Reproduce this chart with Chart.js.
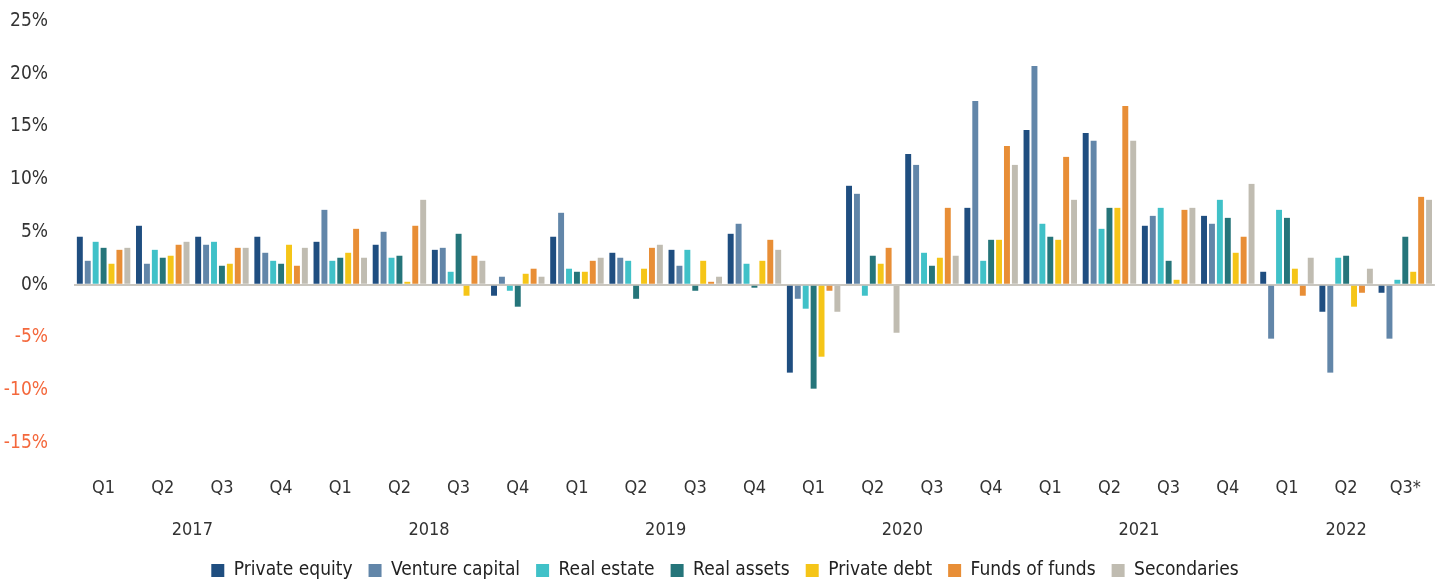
<!DOCTYPE html>
<html>
<head>
<meta charset="utf-8">
<script src="https://cdn.jsdelivr.net/npm/chart.js@4/dist/chart.umd.min.js"></script>
<style>
html,body{margin:0;padding:0;background:#fff;}
#wrap{width:1456px;height:585px;position:relative;}
</style>
</head>
<body>
<div id="wrap"><canvas id="c"></canvas></div>
<script>
const quarters = ['Q1','Q2','Q3','Q4','Q1','Q2','Q3','Q4','Q1','Q2','Q3','Q4','Q1','Q2','Q3','Q4','Q1','Q2','Q3','Q4','Q1','Q2','Q3*'];
const years = ['2017','2018','2019','2020','2021','2022'];
const yearPositions = [1.5, 5.5, 9.5, 13.5, 17.5, 21];
const yTicks = [-15,-10,-5,0,5,10,15,20,25];

const privateEquity   = [4.55,5.59,4.55,4.55,4.07,3.79,3.31,-1.04,4.55,3.03,3.31,4.83,-8.33,9.38,12.4,7.29,14.68,14.39,5.59,6.53,1.23,-2.56,-0.76];
const ventureCapital  = [2.27,1.99,3.79,3.03,7.1,5.02,3.5,0.76,6.82,2.56,1.8,5.78,-1.33,8.62,11.36,17.42,20.74,13.64,6.53,5.78,-5.11,-8.33,-5.11];
const realEstate      = [4.07,3.31,4.07,2.27,2.27,2.56,1.23,-0.57,1.52,2.27,3.31,1.99,-2.27,-1.04,3.03,2.27,5.78,5.3,7.29,8.05,7.1,2.56,0.47];
const realAssets      = [3.5,2.56,1.8,1.99,2.56,2.75,4.83,-2.08,1.23,-1.33,-0.57,-0.28,-9.85,2.75,1.8,4.26,4.55,7.29,2.27,6.34,6.34,2.75,4.55];
const privateDebt     = [1.99,2.75,1.99,3.79,3.03,0.28,-1.04,1.04,1.23,1.52,2.27,2.27,-6.82,1.99,2.56,4.26,4.26,7.29,0.47,3.03,1.52,-2.08,1.23];
const fundsOfFunds    = [3.31,3.79,3.5,1.8,5.3,5.59,2.75,1.52,2.27,3.5,0.28,4.26,-0.57,3.5,7.29,13.16,12.12,16.95,7.1,4.55,-1.04,-0.76,8.33];
const secondaries     = [3.5,4.07,3.5,3.5,2.56,8.05,2.27,0.76,2.56,3.79,0.76,3.31,-2.56,-4.55,2.75,11.36,8.05,13.64,7.29,9.56,2.56,1.52,8.05];

const seriesNames = ['Private equity','Venture capital','Real estate','Real assets','Private debt','Funds of funds','Secondaries'];
const seriesData = [privateEquity, ventureCapital, realEstate, realAssets, privateDebt, fundsOfFunds, secondaries];
const colors = ['#1f4e80','#6286a9','#40c1c8','#25757a','#f5c518','#e88e36','#c0bcb1'];

const FONT = "'DejaVu Sans Condensed','Liberation Sans Narrow',sans-serif";

const datasets = seriesNames.map((n,i)=>({
  label:n,
  data:seriesData[i],
  backgroundColor:colors[i],
  borderWidth:0,
  categoryPercentage:0.937,
  barPercentage:0.75,
  xAxisID:'x',
  yAxisID:'y'
}));

new Chart(document.getElementById('c'),{
  type:'bar',
  data:{labels:quarters,datasets},
  options:{
    responsive:true,
    maintainAspectRatio:false,
    animation:false,
    layout:{padding:{left:0,right:6,top:21,bottom:-5}},
    plugins:{
      legend:{
        position:'bottom',
        labels:{
          boxWidth:13,boxHeight:13,padding:16,
          color:'#222',
          font:{family:FONT,size:19}
        }
      },
      tooltip:{enabled:false}
    },
    scales:{
      x:{
        type:'category',
        position:'bottom',
        grid:{display:false,drawTicks:false},
        border:{display:false},
        afterFit:(s)=>{s.height = 70;},
        ticks:{color:'#333',font:{family:FONT,size:18},padding:35,maxRotation:0,autoSkip:false}
      },
      x2:{
        type:'linear',
        position:'bottom',
        offset:false,
        min:-0.5,max:22.5,
        grid:{display:false,drawTicks:false},
        border:{display:false},
        afterFit:(s)=>{s.height = 32;},
        afterBuildTicks:(s)=>{s.ticks = yearPositions.map(v=>({value:v}));},
        ticks:{
          color:'#333',font:{family:FONT,size:18},padding:7,maxRotation:0,autoSkip:false,
          callback:(v)=>{const k=yearPositions.indexOf(v);return k>=0?years[k]:'';}
        }
      },
      y:{
        min:-15,max:25,
        afterBuildTicks:(s)=>{s.ticks = yTicks.map(v=>({value:v}));},
        afterFit:(s)=>{s.width = 74;},
        border:{display:false},
        grid:{
          drawTicks:true,
          tickLength:22,
          tickColor:'rgba(0,0,0,0)',
          color:(ctx)=>ctx.tick && ctx.tick.value===0 ? '#c9c6bf' : 'rgba(0,0,0,0)',
          lineWidth:(ctx)=>ctx.tick && ctx.tick.value===0 ? 2 : 0
        },
        ticks:{
          padding:4,
          font:{family:FONT,size:19},
          color:(ctx)=>ctx.tick && ctx.tick.value<0 ? '#f4683c' : '#333',
          callback:(v)=>v+'%'
        }
      }
    }
  }
});
</script>
</body>
</html>
